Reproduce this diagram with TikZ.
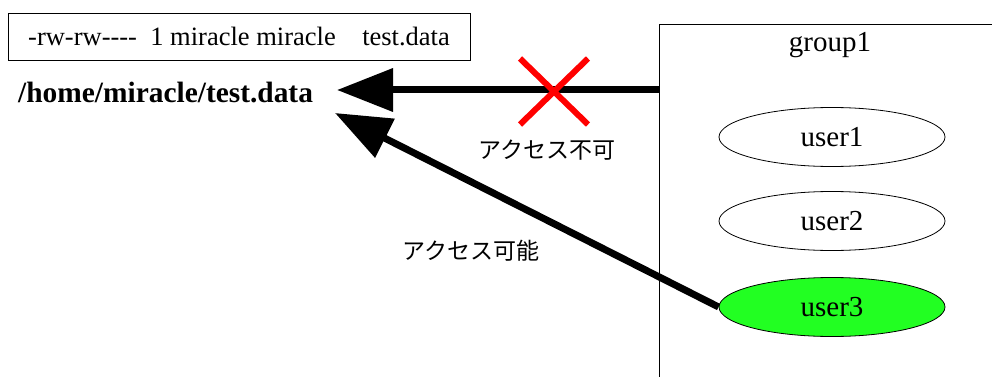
\documentclass[tikz,border=0pt]{standalone}
\usepackage{fontspec}
\setmainfont{Liberation Serif}
\newfontfamily\jp{Noto Sans CJK JP}
\usetikzlibrary{arrows.meta,shapes.geometric,calc}
\definecolor{ugreen}{HTML}{22FF22}
\tikzset{
  user/.style={draw=black,line width=0.8pt,ellipse,minimum width=226pt,minimum height=59pt,inner sep=0pt,font=\fontsize{29}{31}\selectfont},
  bigarrow/.style={line width=7pt,-{Triangle[length=56pt,width=42pt]}},
  jplabel/.style={font=\jp\fontsize{23}{25}\selectfont,inner sep=0pt},
}
\begin{document}
\begin{tikzpicture}[x=1pt,y=-1pt]
\useasboundingbox (0,0) rectangle (992,377);
% file box
\node[draw=black,line width=0.8pt,minimum width=462pt,minimum height=47pt,inner sep=0pt,font=\fontsize{26.5}{28}\selectfont] (perm) at (239,36.5) {-rw-rw{-}{-}{-}{-}\ \ 1 miracle miracle\ \ \ \ test.data};
\node[font=\bfseries\fontsize{29.4}{31}\selectfont,inner sep=0pt,anchor=west] (file) at (18,93) {/home/miracle/test.data};
% group box
\draw[line width=0.9pt] (992,24) -- (659,24) -- (659,377);
\coordinate (gleft) at (659,90);
\node[font=\fontsize{29}{31}\selectfont,inner sep=0pt] (grp) at (830,45) {group1};
\node[user] (u1) at (832,137) {user1};
\node[user] (u2) at (832,221) {user2};
\node[user,fill=ugreen] (u3) at (832,307) {user3};
% arrows
\coordinate (tipA) at (337,90);
\coordinate (tipB) at (335,113);
\draw[bigarrow] (gleft) -- (tipA);
\draw[bigarrow] (u3.west) -- (tipB);
% red cross
\coordinate (xc) at (554,91.5);
\draw[red,line width=6pt] ($(xc)+(-34,-33)$) -- ($(xc)+(34,33)$);
\draw[red,line width=6pt] ($(xc)+(34,-33)$) -- ($(xc)+(-34,33)$);
% labels
\node[jplabel] (ng) at (547,150) {アクセス不可};
\node[jplabel] (ok) at (471,251) {アクセス可能};
\end{tikzpicture}
\end{document}
